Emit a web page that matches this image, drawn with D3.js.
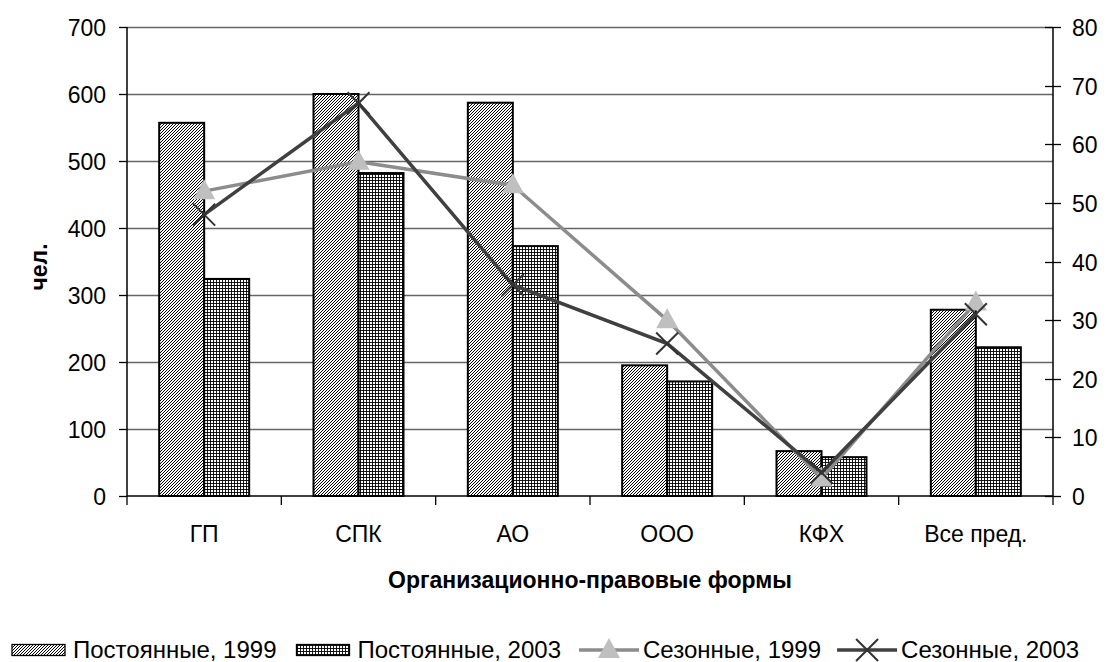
<!DOCTYPE html>
<html><head><meta charset="utf-8">
<script src="https://cdn.jsdelivr.net/npm/d3@7"></script>
<style>body{margin:0;background:#fff}svg{display:block;font-family:"Liberation Sans",Arial,sans-serif}</style>
</head><body>
<script>
const categories = ["ГП","СПК","АО","ООО","КФХ","Все пред."];
const perm1999 = [557, 600, 587, 195, 67, 278];
const perm2003 = [324, 482, 373, 171, 58, 222];
const seas1999 = [52, 57, 53, 30, 3, 33];
const seas2003 = [48, 67, 36, 26, 4, 31];
const leftTicks = [0,100,200,300,400,500,600,700];
const rightTicks = [0,10,20,30,40,50,60,70,80];
const seriesNames = ["Постоянные, 1999","Постоянные, 2003","Сезонные, 1999","Сезонные, 2003"];

const W=1112,H=662;
const L=127,R=1053,T=27,B=496;
const svg=d3.select("body").append("svg").attr("width",W).attr("height",H);
const defs=svg.append("defs");
const p1=defs.append("pattern").attr("id","diag").attr("patternUnits","userSpaceOnUse").attr("width",3).attr("height",3);
p1.append("rect").attr("width",3).attr("height",3).attr("fill","#fff");
p1.append("path").attr("d","M0,3 L3,0 M-1,1 L1,-1 M2,4 L4,2").attr("stroke","#000").attr("stroke-width",1);
const p2=defs.append("pattern").attr("id","grid").attr("patternUnits","userSpaceOnUse").attr("width",3).attr("height",3);
p2.append("rect").attr("width",3).attr("height",3).attr("fill","#fff");
p2.append("path").attr("d","M0,0.5 H3 M0.5,0 V3").attr("stroke","#000").attr("stroke-width",0.9);

const x=d3.scaleBand().domain(categories).range([L,R]).paddingInner(0).paddingOuter(0);
const yL=d3.scaleLinear().domain([0,700]).range([B,T]);
const yR=d3.scaleLinear().domain([0,80]).range([B,T]);
const bw=45;
const cx=c=>x(c)+x.bandwidth()/2;

// gridlines
svg.append("g").selectAll("line").data(leftTicks.filter(d=>d>0)).join("line")
  .attr("x1",L).attr("x2",R).attr("y1",d=>Math.round(yL(d))+0.5).attr("y2",d=>Math.round(yL(d))+0.5)
  .attr("stroke","#666").attr("stroke-width",1.3);

// bars
svg.append("g").selectAll("rect").data(categories).join("rect")
  .attr("x",c=>cx(c)-bw).attr("width",bw)
  .attr("y",(c,i)=>yL(perm1999[i])).attr("height",(c,i)=>B-yL(perm1999[i]))
  .attr("fill","url(#diag)").attr("stroke","#000").attr("stroke-width",2);
svg.append("g").selectAll("rect").data(categories).join("rect")
  .attr("x",c=>cx(c)).attr("width",bw)
  .attr("y",(c,i)=>yL(perm2003[i])).attr("height",(c,i)=>B-yL(perm2003[i]))
  .attr("fill","url(#grid)").attr("stroke","#000").attr("stroke-width",2);

// axes
const ax=svg.append("g").attr("font-size",23).attr("fill","#000");
ax.append("line").attr("x1",L).attr("x2",L).attr("y1",T).attr("y2",B).attr("stroke","#000").attr("stroke-width",1.5);
ax.append("line").attr("x1",R).attr("x2",R).attr("y1",T).attr("y2",B).attr("stroke","#000").attr("stroke-width",1.5);
ax.append("line").attr("x1",L).attr("x2",R).attr("y1",B).attr("y2",B).attr("stroke","#000").attr("stroke-width",1.5);
leftTicks.forEach(t=>{
  const y=Math.round(yL(t))+0.5;
  ax.append("line").attr("x1",L-8).attr("x2",L).attr("y1",y).attr("y2",y).attr("stroke","#000").attr("stroke-width",1.3);
  ax.append("text").attr("x",L-21).attr("y",y+8).attr("text-anchor","end").text(t);
});
rightTicks.forEach(t=>{
  const y=Math.round(yR(t))+0.5;
  ax.append("line").attr("x1",R-8).attr("x2",R+8).attr("y1",y).attr("y2",y).attr("stroke","#000").attr("stroke-width",1.3);
  ax.append("text").attr("x",R+19).attr("y",y+8).attr("text-anchor","start").text(t);
});
d3.range(categories.length+1).forEach(i=>{
  const xx=L+i*x.bandwidth();
  ax.append("line").attr("x1",xx).attr("x2",xx).attr("y1",B).attr("y2",B+9).attr("stroke","#000").attr("stroke-width",1.3);
});
categories.forEach(c=>{
  ax.append("text").attr("x",cx(c)).attr("y",542).attr("text-anchor","middle").text(c);
});
svg.append("text").attr("x",(L+R)/2).attr("y",588).attr("text-anchor","middle")
  .attr("font-size",23).attr("font-weight","bold").text("Организационно-правовые формы");
svg.append("text").attr("transform","translate(47,267) rotate(-90)").attr("text-anchor","middle")
  .attr("font-size",23).attr("font-weight","bold").text("чел.");

// lines
const lineG=d3.line().x(d=>d[0]).y(d=>d[1]);
const pts1=categories.map((c,i)=>[cx(c),yR(seas1999[i])]);
const pts2=categories.map((c,i)=>[cx(c),yR(seas2003[i])]);
svg.append("path").attr("d",lineG(pts1)).attr("fill","none").attr("stroke","#8c8c8c").attr("stroke-width",3.5);
const tri=(px,py)=>`M${px},${py-12} L${px+11},${py+8} L${px-11},${py+8} Z`;
svg.append("g").selectAll("path").data(pts1).join("path").attr("d",d=>tri(d[0],d[1])).attr("fill","#bfbfbf");
svg.append("path").attr("d",lineG(pts2)).attr("fill","none").attr("stroke","#404040").attr("stroke-width",3.5);
const cross=(px,py)=>`M${px-11},${py-11} L${px+11},${py+11} M${px+11},${py-11} L${px-11},${py+11}`;
svg.append("g").selectAll("path").data(pts2).join("path").attr("d",d=>cross(d[0],d[1])).attr("stroke","#333").attr("stroke-width",2);

// legend
const lg=svg.append("g").attr("font-size",24);
const ly=650;
let lx=12;
const gapAfterText=[20,18,16,0];
seriesNames.forEach((n,i)=>{
  if(i<2){
    lg.append("rect").attr("x",lx).attr("y",ly-5.5).attr("width",53).attr("height",11)
      .attr("fill",i===0?"url(#diag)":"url(#grid)").attr("stroke","#000").attr("stroke-width",1.3);
    lx+=53+8;
  } else {
    lg.append("line").attr("x1",lx).attr("x2",lx+60).attr("y1",ly).attr("y2",ly)
      .attr("stroke",i===2?"#8c8c8c":"#404040").attr("stroke-width",3.5);
    if(i===2) lg.append("path").attr("d",tri(lx+30,ly)).attr("fill","#bfbfbf");
    else lg.append("path").attr("d",cross(lx+30,ly)).attr("stroke","#333").attr("stroke-width",2);
    lx+=64;
  }
  const t=lg.append("text").attr("x",lx).attr("y",ly+8).text(n);
  lx+=t.node().getComputedTextLength()+gapAfterText[i];
});
</script>
</body></html>
